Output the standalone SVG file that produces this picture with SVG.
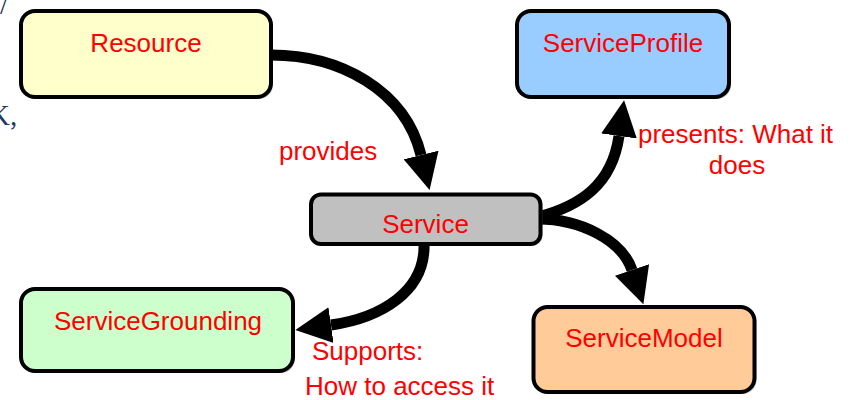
<svg xmlns="http://www.w3.org/2000/svg" width="856" height="400" viewBox="0 0 856 400">
<defs>
<style>
.box{stroke:#000;stroke-width:4}
.shadow{fill:#9a9a9a;opacity:.55}
.t{font-family:"Liberation Sans",Arial,sans-serif;font-size:26px;fill:#ff0000;text-anchor:middle}
.lbl{font-family:"Liberation Sans",Arial,sans-serif;font-size:26px;fill:#ff0000}
.conn{fill:none;stroke:#000;stroke-width:11}
.frag{font-family:"Liberation Serif","Times New Roman",serif;font-size:29px;fill:#1f3864}
</style>
<marker id="ah" markerUnits="userSpaceOnUse" markerWidth="37" markerHeight="36" refX="0" refY="18" orient="auto" viewBox="0 0 37 36">
<path d="M0,0 L36,18 L0,36 Z" fill="#000"/>
</marker>
</defs>
<rect width="856" height="400" fill="#fff"/>
<text class="frag" x="0" y="14">/</text>
<text class="frag" x="-11" y="125">K,</text>

<g id="connectors">
<path class="conn" d="M271,55 C340,55 405,90 421,155" marker-end="url(#ah)"/>
<path class="conn" d="M538,217 C580,206 612,185 619,136" marker-end="url(#ah)"/>
<path class="conn" d="M538,219 C580,219 622,240 632,270" marker-end="url(#ah)"/>
<path class="conn" d="M424,243 C426,292 380,318 331,325" marker-end="url(#ah)"/>
</g>

<g id="resource">
<rect class="shadow" x="23" y="13" width="250" height="86" rx="14"/>
<rect class="box" x="21" y="11" width="250" height="86" rx="14" fill="#ffffcc"/>
<text class="t" x="146" y="52">Resource</text>
</g>
<g id="serviceprofile">
<rect class="shadow" x="519" y="13" width="212" height="86" rx="14"/>
<rect class="box" x="517" y="11" width="212" height="86" rx="14" fill="#99ccff"/>
<text class="t" x="623" y="52">ServiceProfile</text>
</g>
<g id="service">
<rect class="shadow" x="313" y="196.5" width="229.5" height="49.5" rx="10"/>
<rect class="box" x="311" y="194.5" width="229.5" height="49.5" rx="10" fill="#c0c0c0"/>
<text class="t" x="425.5" y="233">Service</text>
</g>
<g id="servicegrounding">
<rect class="shadow" x="23" y="291" width="272" height="82" rx="14"/>
<rect class="box" x="21" y="289" width="272" height="82" rx="14" fill="#ccffcc"/>
<text class="t" x="158" y="330">ServiceGrounding</text>
</g>
<g id="servicemodel">
<rect class="shadow" x="535.5" y="309" width="221" height="85" rx="14"/>
<rect class="box" x="533.5" y="307" width="221" height="85" rx="14" fill="#ffcc99"/>
<text class="t" x="644" y="347">ServiceModel</text>
</g>

<g id="labels">
<text class="lbl" x="279" y="160">provides</text>
<text class="lbl" x="638" y="143">presents: What it</text>
<text class="lbl" x="737" y="174" text-anchor="middle">does</text>
<text class="lbl" x="312" y="360">Supports:</text>
<text class="lbl" x="305" y="395">How to access it</text>
</g>
</svg>
